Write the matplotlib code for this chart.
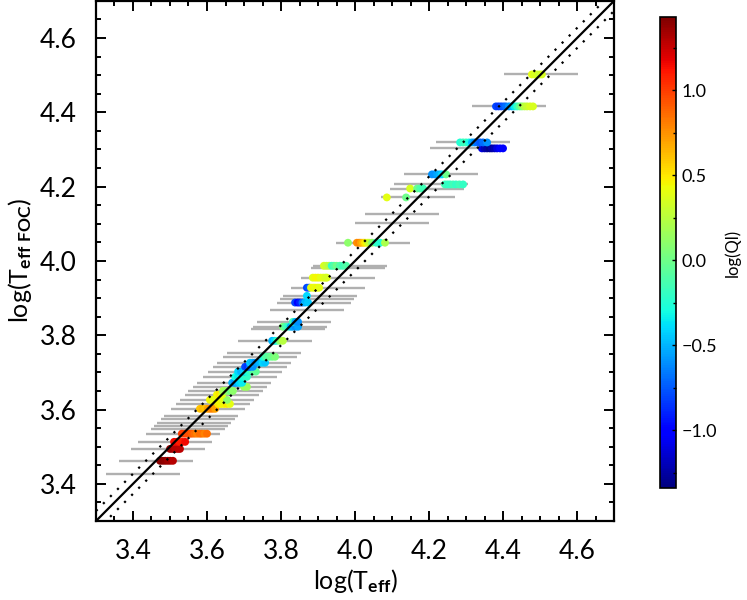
import numpy as np
import matplotlib
matplotlib.use("Agg")
import matplotlib.pyplot as plt
from matplotlib.ticker import MultipleLocator, FuncFormatter

plt.rcParams['font.family'] = ['Lato', 'DejaVu Sans']
plt.rcParams['mathtext.fontset'] = 'custom'
plt.rcParams['mathtext.rm'] = 'Lato'
plt.rcParams['mathtext.bf'] = 'Lato:bold'
plt.rcParams['mathtext.it'] = 'Lato:italic'

# ---- data: error-bar rows (log Teff FOC) ----
row_y = [3.427, 3.462, 3.494, 3.513, 3.535, 3.548, 3.556, 3.564, 3.575, 3.583,
         3.602, 3.615, 3.626, 3.640, 3.650, 3.661, 3.672, 3.688, 3.702, 3.715,
         3.726, 3.742, 3.753, 3.785, 3.818, 3.823, 3.836, 3.869, 3.888, 3.898,
         3.906, 3.928, 3.955, 3.982, 3.987, 4.049, 4.101, 4.127, 4.171, 4.195,
         4.206, 4.233, 4.303, 4.319, 4.416, 4.502]
row_err = 0.1

# ---- data: coloured points, grouped per row ----
blob_y = [3.462, 3.494, 3.513, 3.535, 3.602, 3.615, 3.626, 3.640, 3.650, 3.661,
          3.672, 3.688, 3.702, 3.715, 3.726, 3.742, 3.785, 3.823, 3.836, 3.888,
          3.906, 3.928, 3.955, 3.987, 4.049, 4.171, 4.195, 4.206, 4.233, 4.303,
          4.319, 4.416, 4.502]
blob_x = [
    [3.473, 3.480, 3.487, 3.494, 3.501, 3.508],
    [3.500, 3.507, 3.514, 3.521, 3.527],
    [3.511, 3.518, 3.525, 3.533, 3.541],
    [3.532, 3.539, 3.546, 3.553, 3.559, 3.566, 3.573, 3.580, 3.586, 3.593, 3.600],
    [3.581, 3.588, 3.595, 3.602, 3.608, 3.615, 3.622],
    [3.630, 3.638, 3.646, 3.654, 3.662],
    [3.608, 3.616, 3.624, 3.632, 3.641, 3.654],
    [3.627, 3.634, 3.641],
    [3.643, 3.650, 3.657, 3.664, 3.670],
    [3.700, 3.708],
    [3.668, 3.675, 3.681, 3.688, 3.695],
    [3.676, 3.684, 3.692, 3.700, 3.708],
    [3.684, 3.692, 3.700, 3.708, 3.716, 3.724, 3.732],
    [3.703, 3.710, 3.716, 3.724],
    [3.716, 3.723, 3.730, 3.737, 3.743, 3.750, 3.757],
    [3.751, 3.759, 3.768, 3.776, 3.784],
    [3.776, 3.783, 3.789, 3.797, 3.805],
    [3.805, 3.812, 3.819, 3.826, 3.832, 3.839, 3.846],
    [3.832, 3.839, 3.846],
    [3.838, 3.845, 3.851, 3.858, 3.865, 3.873],
    [3.870],
    [3.870, 3.876, 3.881, 3.887, 3.892, 3.898, 3.903],
    [3.886, 3.893, 3.900, 3.907, 3.914, 3.920, 3.924],
    [3.916, 3.923, 3.930, 3.937, 3.943, 3.950, 3.959, 3.967, 3.976],
    [3.981, 4.005, 4.011, 4.016, 4.022, 4.027, 4.033, 4.038, 4.046, 4.057, 4.068, 4.081],
    [4.086, 4.138],
    [4.149, 4.168, 4.176, 4.184],
    [4.243, 4.250, 4.257, 4.265, 4.273, 4.282, 4.292],
    [4.208, 4.215, 4.222, 4.229, 4.235, 4.246],
    [4.343, 4.350, 4.357, 4.364, 4.370, 4.377, 4.384, 4.392, 4.400],
    [4.284, 4.292, 4.300, 4.308, 4.316, 4.323, 4.330, 4.338, 4.346, 4.357],
    [4.381, 4.388, 4.395, 4.402, 4.408, 4.416, 4.424, 4.431, 4.438, 4.445, 4.451,
     4.458, 4.465, 4.473, 4.481],
    [4.478, 4.485, 4.492, 4.499, 4.505],
]
blob_c = [
    [1.40, 1.40, 1.38, 1.35, 1.35, 1.30],
    [1.35, 1.35, 1.30, 1.30, 1.28],
    [1.15, 1.15, 1.10, 1.10, 1.15],
    [1.00, 1.00, 0.95, 0.95, 0.90, 0.85, 0.80, 0.85, 0.85, 0.80, 0.85],
    [0.60, 0.65, 0.60, 0.70, 0.75, 0.80, 0.70],
    [0.50, 0.45, 0.45, 0.50, 0.40],
    [0.45, 0.40, 0.40, 0.45, 0.40, 0.10],
    [0.45, 0.50, 0.40],
    [0.20, 0.15, 0.10, 0.00, 0.10],
    [0.15, 0.15],
    [-0.50, -0.60, -0.50, -0.40, -0.35],
    [-0.30, -0.35, -0.30, -0.25, -0.20],
    [-0.40, -0.50, -0.45, -0.30, -0.20, -0.10, -0.05],
    [-0.80, -0.85, -0.70, -0.60],
    [-0.45, -0.50, -0.60, -0.55, -0.50, -0.40, -0.45],
    [-0.25, -0.10, -0.05, 0.00, 0.05],
    [-0.50, -0.40, -0.20, 0.10, 0.25],
    [0.05, -0.10, -0.20, -0.50, -0.55, -0.60, -0.55],
    [-0.15, -0.55, -0.60],
    [-0.80, -1.00, -0.90, -0.70, -0.50, -0.45],
    [-0.40],
    [-0.80, -0.75, 0.40, 0.45, 0.40, 0.45, 0.40],
    [0.40, 0.45, 0.45, 0.40, 0.40, 0.35, 0.35],
    [0.35, 0.30, 0.25, -0.20, -0.10, 0.00, -0.10, -0.15, -0.10],
    [0.10, 0.75, 0.80, 0.70, 0.60, 0.50, 0.40, 0.30, 0.10, -0.20, -0.25, 0.20],
    [0.40, 0.00],
    [0.35, 0.00, -0.10, -0.15],
    [-0.15, -0.20, -0.20, -0.15, -0.20, -0.15, -0.20],
    [-0.60, -0.60, -0.55, -0.50, -0.40, 0.00],
    [-1.10, -1.20, -1.25, -1.30, -1.25, -1.20, -1.10, -1.00, -1.00],
    [-0.25, -0.20, -0.15, -0.30, -0.50, -0.60, -0.70, -0.75, -0.70, -0.60],
    [-0.80, -0.85, -0.80, -0.75, -0.70, -0.60, -0.50, -0.35, -0.20, -0.05, 0.10,
     0.25, 0.30, 0.35, 0.35],
    [0.40, 0.35, 0.35, 0.30, 0.35],
]

ql_min, ql_max = -1.34, 1.43
offset = 0.027
lims = [3.3, 4.7]

fmt = FuncFormatter(lambda v, p: ('%.1f' % v).replace('-', '\u2212'))

# ---- figure ----
fig = plt.figure(figsize=(7.47, 6.0), dpi=100)
ax = fig.add_axes([0.1285, 0.1317, 0.6935, 0.8668])

ax.errorbar(row_y, row_y, xerr=row_err, fmt='none', ecolor='#b0b0b0',
            elinewidth=1.7, capsize=0, zorder=1)

px = np.concatenate([np.array(v) for v in blob_x])
py = np.concatenate([np.full(len(v), y) for v, y in zip(blob_x, blob_y)])
pc = np.concatenate([np.array(v) for v in blob_c])
sc = ax.scatter(px, py, c=pc, cmap='jet', vmin=ql_min, vmax=ql_max,
                s=32, edgecolors='none', zorder=2)

xl = np.array(lims)
ax.plot(xl, xl, color='black', lw=1.6, zorder=3)
ax.plot(xl, xl + offset, color='black', lw=1.6, ls=(0, (1, 3.5)), zorder=3)
ax.plot(xl, xl - offset, color='black', lw=1.6, ls=(0, (1, 3.5)), zorder=3)

ax.set_xlim(lims)
ax.set_ylim(lims)
for a in (ax.xaxis, ax.yaxis):
    a.set_major_locator(MultipleLocator(0.2))
    a.set_minor_locator(MultipleLocator(0.05))
    a.set_major_formatter(fmt)
ax.tick_params(which='both', direction='in', top=True, right=True, width=1.4,
               labelsize=19)
ax.tick_params(which='major', length=7.5)
ax.tick_params(axis='x', which='major', pad=13)
ax.tick_params(axis='y', which='major', pad=14)
ax.tick_params(which='minor', length=3.8)
for s in ax.spines.values():
    s.set_linewidth(1.6)

ax.set_xlabel(r'log(T$_{\mathbf{eff}}$)', fontsize=18, labelpad=2)
ax.set_ylabel(r'log(T$_{\mathbf{eff\ FOC}}$)', fontsize=18, labelpad=4)

# ---- colorbar ----
cax = fig.add_axes([0.8835, 0.187, 0.021, 0.784])
cb = fig.colorbar(sc, cax=cax)
cb.set_ticks([-1.0, -0.5, 0.0, 0.5, 1.0])
cb.ax.yaxis.set_major_formatter(fmt)
cb.ax.yaxis.set_minor_locator(MultipleLocator(0.25))
cb.ax.tick_params(which='both', direction='in', width=1.0, labelsize=13)
cb.ax.tick_params(which='major', length=3, pad=4)
cb.ax.tick_params(which='minor', length=2)
cb.outline.set_linewidth(1.2)
cb.set_label('log(Ql)', fontsize=12, labelpad=5)

fig.savefig('out.png', dpi=100)
